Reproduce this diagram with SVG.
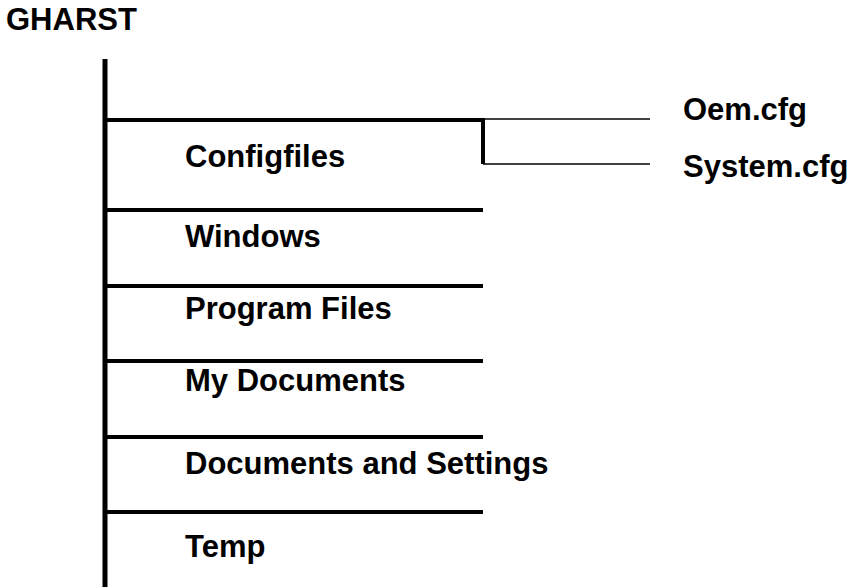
<svg xmlns="http://www.w3.org/2000/svg" width="854" height="587" viewBox="0 0 854 587">
<style>
text{font-family:"Liberation Sans",Arial,sans-serif;font-weight:bold;font-size:31px;fill:#000}
.thick{stroke:#000;stroke-width:4;fill:none}
.trunk{stroke:#000;stroke-width:5;fill:none}
.thin{stroke:#000;stroke-width:1.5;fill:none}
</style>
<rect width="854" height="587" fill="#fff"/>
<g id="root"><text x="6" y="30">GHARST</text></g>
<g id="connectors">
<line class="trunk" x1="105" y1="59" x2="105" y2="587"/>
<line class="thick" x1="105" y1="120" x2="485" y2="120"/>
<line class="thick" x1="105" y1="210" x2="483" y2="210"/>
<line class="thick" x1="105" y1="286" x2="483" y2="286"/>
<line class="thick" x1="105" y1="361" x2="483" y2="361"/>
<line class="thick" x1="105" y1="437" x2="483" y2="437"/>
<line class="thick" x1="105" y1="512" x2="483" y2="512"/>
<line class="thick" x1="483" y1="118" x2="483" y2="164"/>
<line class="thin" x1="483" y1="119" x2="650" y2="119"/>
<line class="thin" x1="483" y1="164" x2="650" y2="164"/>
</g>
<g id="configfiles"><text x="185" y="167">Configfiles</text></g>
<g id="windows"><text x="185" y="247">Windows</text></g>
<g id="programfiles"><text x="185" y="319">Program Files</text></g>
<g id="mydocuments"><text x="185" y="391">My Documents</text></g>
<g id="docsettings"><text x="185" y="474">Documents and Settings</text></g>
<g id="temp"><text x="185" y="557">Temp</text></g>
<g id="oem"><text x="683" y="120">Oem.cfg</text></g>
<g id="system"><text x="683" y="177">System.cfg</text></g>
</svg>
